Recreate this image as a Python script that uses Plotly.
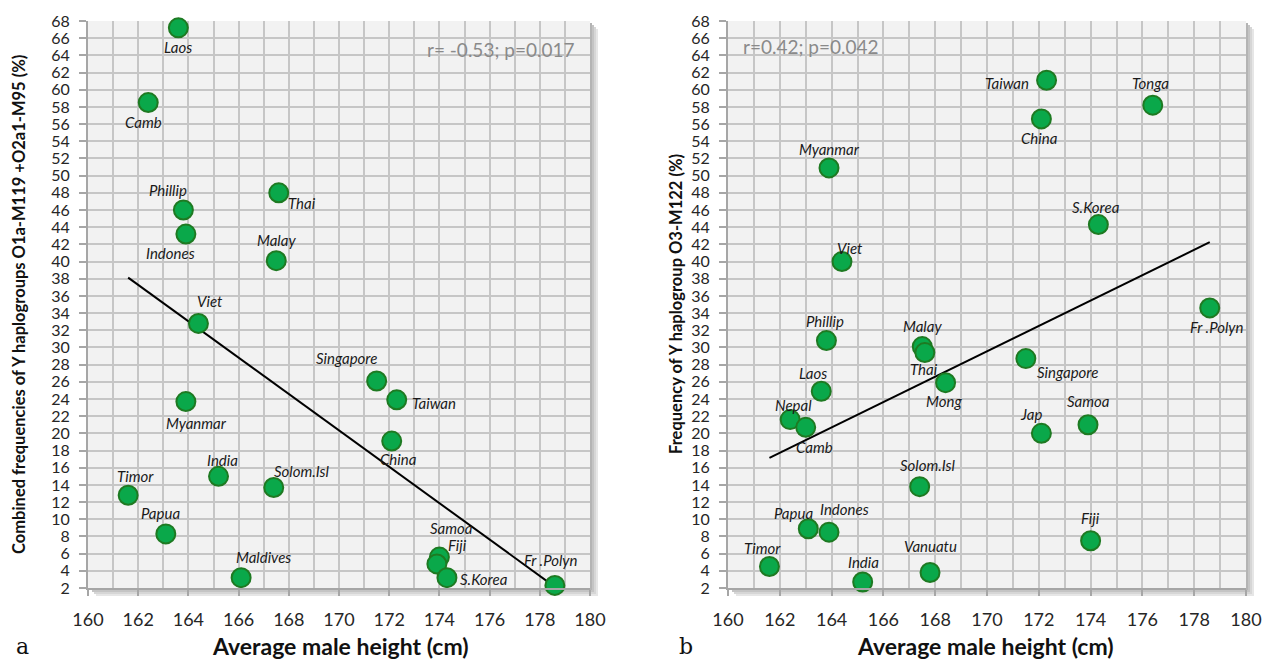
import numpy as np
import plotly.graph_objects as go

# ---------------- data ----------------
countries_a = ["Laos", "Camb", "Phillip", "Indones", "Thai", "Malay", "Viet", "Myanmar",
               "India", "Timor", "Papua", "Maldives", "Solom.Isl", "Singapore", "Taiwan",
               "China", "Samoa", "Fiji", "S.Korea", "Fr .Polyn"]
height_a = [163.6, 162.4, 163.8, 163.9, 167.6, 167.5, 164.4, 163.9,
            165.2, 161.6, 163.1, 166.1, 167.4, 171.5, 172.3,
            172.1, 174.0, 173.9, 174.3, 178.6]
freq_a = [67.2, 58.5, 46.0, 43.2, 48.0, 40.1, 32.8, 23.7,
          15.0, 12.8, 8.3, 3.2, 13.7, 26.1, 23.9,
          19.1, 5.6, 4.8, 3.2, 2.3]

countries_b = ["Myanmar", "Viet", "Taiwan", "China", "Tonga", "S.Korea", "Fr .Polyn",
               "Phillip", "Malay", "Thai", "Mong", "Laos", "Nepal", "Camb", "Solom.Isl",
               "Papua", "Indones", "Timor", "India", "Vanuatu", "Singapore", "Jap",
               "Samoa", "Fiji"]
height_b = [163.9, 164.4, 172.3, 172.1, 176.4, 174.3, 178.6,
            163.8, 167.5, 167.6, 168.4, 163.6, 162.4, 163.0, 167.4,
            163.1, 163.9, 161.6, 165.2, 167.8, 171.5, 172.1,
            173.9, 174.0]
freq_b = [50.9, 40.0, 61.1, 56.6, 58.2, 44.3, 34.6,
          30.8, 30.1, 29.4, 25.9, 24.9, 21.6, 20.7, 13.8,
          8.9, 8.5, 4.5, 2.7, 3.8, 28.7, 20.0,
          21.0, 7.5]

x_ticks = list(range(160, 181, 2))
y_ticks = list(range(2, 69, 2))
stat_a = "r= -0.53; p=0.017"
stat_b = "r=0.42; p=0.042"
xtitle = "Average male height (cm)"
ytitle_a = "Combined frequencies of Y haplogroups O1a-M119 +O2a1-M95 (%)"
ytitle_b = "Frequency of Y haplogroup O3-M122 (%)"

# ---------------- label offsets (px; dx right, dy down) ----------------
off_a = {"Laos": (0, 19), "Camb": (-5, 19), "Phillip": (-15, -20), "Indones": (-15, 19),
         "Thai": (23, 10), "Malay": (0, -21), "Viet": (12, -22), "Myanmar": (11, 21),
         "India": (4, -16), "Timor": (7, -19), "Papua": (-5, -21), "Maldives": (22, -21),
         "Solom.Isl": (28, -16), "Singapore": (-30, -23), "Taiwan": (37, 3),
         "China": (7, 18), "Samoa": (12, -29), "Fiji": (21, -19), "S.Korea": (37, 1),
         "Fr .Polyn": (-4, -25)}
off_b = {"Myanmar": (0, -19), "Viet": (8, -14), "Taiwan": (-40, 3), "China": (-2, 19),
         "Tonga": (-2, -22), "S.Korea": (-2, -18), "Fr .Polyn": (7, 19),
         "Phillip": (-1, -20), "Malay": (0, -21), "Thai": (-1, 16), "Mong": (-2, 18),
         "Laos": (-8, -18), "Nepal": (3, -15), "Camb": (9, 20), "Solom.Isl": (8, -22),
         "Papua": (-15, -16), "Indones": (15, -23), "Timor": (-7, -19), "India": (1, -20),
         "Vanuatu": (0, -27), "Singapore": (42, 13), "Jap": (-10, -19), "Samoa": (0, -24),
         "Fiji": (0, -23)}

W, H = 1263, 661
FONT = "Lato"
GREEN = "#0aa84a"
EDGE = "#1e7a22"
GRID = "#c6c6c6"
AXC = "#a6a6a6"

dom_a = [88 / W, 590 / W]
dom_b = [728 / W, 1246 / W]
dom_y = [1 - 588 / H, 1 - 21 / H]

fig = go.Figure()

panels = [
    ("x", "y", countries_a, height_a, freq_a, off_a),
    ("x2", "y2", countries_b, height_b, freq_b, off_b),
]

annotations = []
for xa, ya, names, hx, fy, offs in panels:
    hx_arr = np.array(hx)
    fy_arr = np.array(fy)
    slope, icpt = np.polyfit(hx_arr, fy_arr, 1)
    xl = np.array([hx_arr.min(), hx_arr.max()])
    fig.add_trace(go.Scatter(x=xl, y=slope * xl + icpt, mode="lines",
                             line=dict(color="black", width=2), xaxis=xa, yaxis=ya,
                             showlegend=False, hoverinfo="skip", cliponaxis=False))
    fig.add_trace(go.Scatter(x=hx, y=fy, mode="markers",
                             marker=dict(size=19, color=GREEN, line=dict(color=EDGE, width=2)),
                             xaxis=xa, yaxis=ya, showlegend=False, cliponaxis=False,
                             text=names))
    for n, xv, yv in zip(names, hx, fy):
        dx, dy = offs[n]
        annotations.append(dict(x=xv, y=yv, xref=xa, yref=ya, text="<i>" + n + "</i>",
                                showarrow=False, xshift=dx, yshift=-dy,
                                xanchor="center", yanchor="middle",
                                font=dict(family=FONT, size=15, color="#1a1a1a")))


def paper_text(px, py, text, size, color, family=FONT, angle=0):
    return dict(x=px / W, y=1 - py / H, xref="paper", yref="paper", text=text,
                showarrow=False, xanchor="center", yanchor="middle", textangle=angle,
                font=dict(family=family, size=size, color=color))


# stats text
annotations.append(paper_text(500, 49, stat_a, 19, "#8a8a8a"))
annotations.append(paper_text(811, 46, stat_b, 19, "#8a8a8a"))
# axis titles
for cx in (340, 985):
    annotations.append(paper_text(cx, 646, "<b>" + xtitle + "</b>", 23, "#111111"))
annotations.append(paper_text(19, 305, "<b>" + ytitle_a + "</b>", 16.5, "#111111", angle=-90))
annotations.append(paper_text(676, 304, "<b>" + ytitle_b + "</b>", 16.5, "#111111", angle=-90))
# panel letters
annotations.append(paper_text(22, 646, "a", 22, "#111111", family="DejaVu Serif"))
annotations.append(paper_text(686, 646, "b", 22, "#111111", family="DejaVu Serif"))

# shadow + background shapes
shapes = []
for d in (dom_a, dom_b):
    for off, col in ((8, "#e6e6e6"), (6, "#d6d6d6"), (4, "#c4c4c4"), (2, "#b4b4b4")):
        shapes.append(dict(type="rect", xref="paper", yref="paper", layer="below",
                           x0=d[0] + off / W, x1=d[1] + off / W,
                           y0=dom_y[0] - off / H, y1=dom_y[1] - off / H,
                           line=dict(width=0), fillcolor=col))
    shapes.append(dict(type="rect", xref="paper", yref="paper", layer="below",
                       x0=d[0], x1=d[1], y0=dom_y[0], y1=dom_y[1],
                       line=dict(width=0), fillcolor="#f2f2f2"))


def xaxis_cfg(dom, anchor):
    return dict(domain=dom, anchor=anchor, range=[160, 180], tickvals=x_ticks,
                showgrid=True, gridcolor=GRID, gridwidth=2,
                minor=dict(dtick=1, tick0=160, showgrid=True, gridcolor=GRID, gridwidth=2),
                ticks="outside", ticklen=6, tickwidth=2, tickcolor=AXC,
                showline=True, linecolor=AXC, linewidth=2, mirror=False, zeroline=False,
                ticklabelstandoff=8, automargin=False,
                tickfont=dict(family=FONT, size=18, color="#262626"), fixedrange=True)


def yaxis_cfg(anchor):
    return dict(domain=dom_y, anchor=anchor, range=[2, 68], tickvals=y_ticks,
                showgrid=True, gridcolor=GRID, gridwidth=2,
                ticks="outside", ticklen=7, tickwidth=2, tickcolor=AXC,
                showline=True, linecolor=AXC, linewidth=2, zeroline=False,
                ticklabelstandoff=6, automargin=False,
                tickfont=dict(family=FONT, size=16, color="#262626"), fixedrange=True)


fig.update_layout(
    width=W, height=H, margin=dict(l=0, r=0, t=0, b=0, autoexpand=False),
    paper_bgcolor="white", plot_bgcolor="rgba(0,0,0,0)",
    xaxis=xaxis_cfg(dom_a, "y"), yaxis=yaxis_cfg("x"),
    xaxis2=xaxis_cfg(dom_b, "y2"), yaxis2=yaxis_cfg("x2"),
    annotations=annotations, shapes=shapes, showlegend=False,
    font=dict(family=FONT),
)

fig.write_html("out.html")
